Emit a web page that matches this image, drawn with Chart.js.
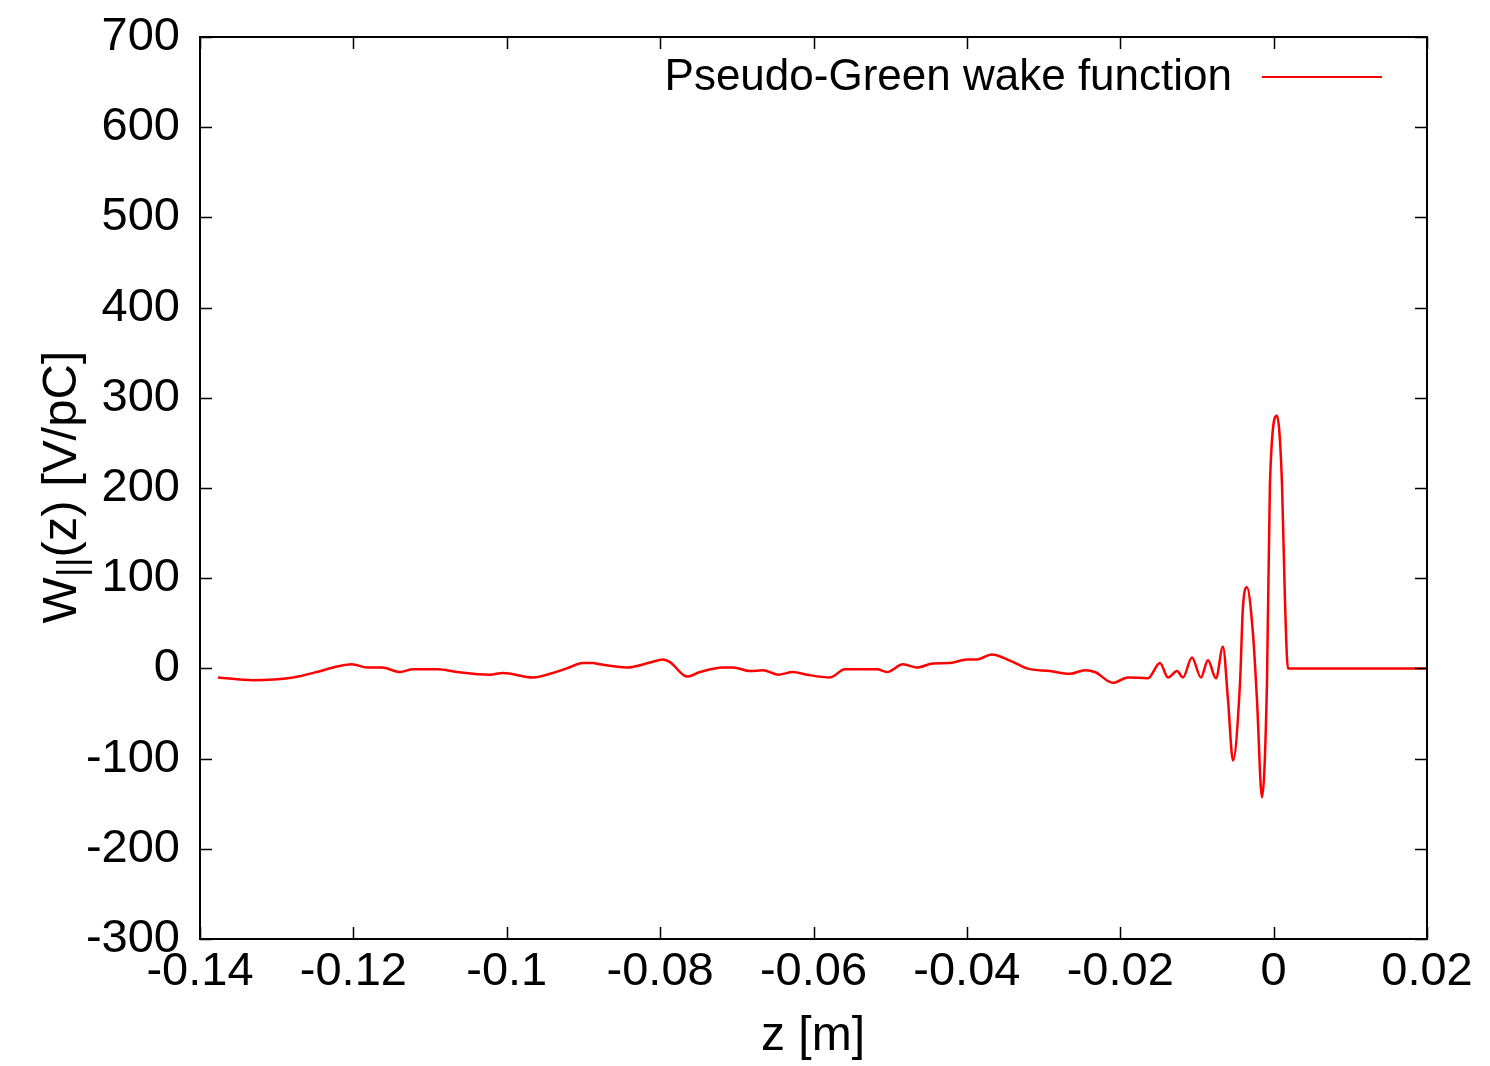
<!DOCTYPE html>
<html>
<head>
<meta charset="utf-8">
<script src="https://cdn.jsdelivr.net/npm/chart.js@4"></script>
<style>
  html, body { margin: 0; padding: 0; background: #fff; }
  #wrap { width: 1490px; height: 1066px; }
</style>
</head>
<body>
<div id="wrap"><canvas id="myChart" width="1490" height="1066"></canvas></div>
<script>
// longitudinal wake, z in metres, W in V/pC
var zVals = [
  -0.13765, -0.13309, -0.12787, -0.12474, -0.12266, -0.12018, -0.11822, -0.11627,
  -0.11392, -0.11223, -0.10897, -0.10649, -0.10219, -0.10049, -0.09658, -0.09436,
  -0.09215, -0.09006, -0.08875, -0.08784, -0.08432, -0.08132, -0.07963, -0.07871,
  -0.07650, -0.07480, -0.07180, -0.07050, -0.06828, -0.06659, -0.06463, -0.06268,
  -0.06085, -0.05785, -0.05590, -0.05172, -0.05042, -0.04833, -0.04651, -0.04442,
  -0.04220, -0.04000, -0.03868, -0.03673, -0.03529, -0.03334, -0.03216, -0.02917,
  -0.02656, -0.02460, -0.02330, -0.02095, -0.01899, -0.01639, -0.01482, -0.01378,
  -0.01260, -0.01182, -0.01065, -0.00948, -0.00856, -0.00752, -0.00661, -0.00595,
  -0.00530, -0.00439, -0.00400, -0.00348, -0.00270, -0.00217, -0.00152, -0.00087,
  -0.00048, 0.00043, 0.00109, 0.00148, 0.00187, 0.02
];
var wVals = [
  -10, -13, -10, -4, 1, 4.5, 1, 1,
  -4, -1, -1, -4, -7, -5, -10, -6,
  0, 6, 6, 4.5, 1, 6.5, 10, 7,
  -9, -4, 1, 1, -3, -2, -7, -4,
  -7, -10, -1, -1, -4, 4.5, 1, 5.5,
  6, 10, 10, 15.5, 12, 4.5, 0, -3,
  -6, -2, -4, -16, -10, -11, 6, -10,
  -3, -10, 12, -10, 9, -11, 24, -35,
  -102, -17, 68, 90, 39, -35, -143, -17,
  205, 280, 205, 75, 0, 0
];

var xTickLabels = ['-0.14', '-0.12', '-0.1', '-0.08', '-0.06', '-0.04', '-0.02', '0', '0.02'];
var yTickLabels = ['-300', '-200', '-100', '0', '100', '200', '300', '400', '500', '600', '700'];

var seriesName = 'Pseudo-Green wake function';
var FONT = '"Liberation Sans", Arial, sans-serif';

var points = zVals.map(function (z, i) { return { x: z, y: wVals[i] }; });

// gnuplot style frame: border plus inward ticks on all four sides
var framePlugin = {
  id: 'frame',
  afterDatasetsDraw: function (chart) {
    var ctx = chart.ctx, a = chart.chartArea;
    var xs = chart.scales.x, ys = chart.scales.y;
    var len = 12;
    ctx.save();
    ctx.strokeStyle = '#000';
    ctx.lineWidth = 1.5;
    ctx.beginPath();
    xs.ticks.forEach(function (t) {
      var px = Math.round(xs.getPixelForValue(t.value)) + 0.5;
      ctx.moveTo(px, a.bottom); ctx.lineTo(px, a.bottom - len);
      ctx.moveTo(px, a.top); ctx.lineTo(px, a.top + len);
    });
    ys.ticks.forEach(function (t) {
      var py = Math.round(ys.getPixelForValue(t.value)) + 0.5;
      ctx.moveTo(a.left, py); ctx.lineTo(a.left + len, py);
      ctx.moveTo(a.right, py); ctx.lineTo(a.right - len, py);
    });
    ctx.stroke();
    ctx.lineWidth = 2;
    ctx.strokeRect(a.left, a.top, a.right - a.left, a.bottom - a.top);

    // key, sample line to the right of the text
    ctx.font = '44px ' + FONT;
    ctx.fillStyle = '#000';
    ctx.textAlign = 'right';
    ctx.textBaseline = 'middle';
    ctx.fillText(seriesName, 1232, 78);
    ctx.strokeStyle = '#ff0000';
    ctx.lineWidth = 2;
    ctx.beginPath();
    ctx.moveTo(1262, 77); ctx.lineTo(1382, 77);
    ctx.stroke();

    // axis titles
    ctx.fillStyle = '#000';
    ctx.font = '48px ' + FONT;
    ctx.textAlign = 'center';
    ctx.textBaseline = 'alphabetic';
    ctx.fillText('z [m]', 813, 1050);

    ctx.translate(76, 487);
    ctx.rotate(-Math.PI / 2);
    ctx.textAlign = 'left';
    var big = '49px ' + FONT, small = '38px ' + FONT;
    ctx.font = big;
    var w1 = ctx.measureText('W').width;
    var w3 = ctx.measureText('(z) [V/pC]').width;
    ctx.font = small;
    var w2 = ctx.measureText('||').width;
    var x0 = -(w1 + w2 + w3) / 2;
    ctx.font = big;
    ctx.fillText('W', x0, 0);
    ctx.font = small;
    ctx.fillText('||', x0 + w1, 8);
    ctx.font = big;
    ctx.fillText('(z) [V/pC]', x0 + w1 + w2, 0);
    ctx.restore();
  }
};

var ctx = document.getElementById('myChart').getContext('2d');
var chart = new Chart(ctx, {
  type: 'line',
  data: {
    datasets: [{
      label: seriesName,
      data: points,
      borderColor: '#ff0000',
      borderWidth: 2.5,
      pointRadius: 0,
      cubicInterpolationMode: 'monotone',
      fill: false
    }]
  },
  options: {
    responsive: false,
    animation: false,
    layout: { padding: { top: 37, right: 63, left: 0, bottom: 0 } },
    plugins: { legend: { display: false }, tooltip: { enabled: false } },
    scales: {
      x: {
        type: 'linear',
        min: -0.14, max: 0.02,
        afterFit: function (s) {
          s.height = 127;
          s.paddingLeft = 0; s.paddingRight = 0;
        },
        afterBuildTicks: function (s) {
          s.ticks = xTickLabels.map(function (l) { return { value: parseFloat(l) }; });
        },
        grid: { display: false, drawTicks: false },
        border: { display: false },
        ticks: {
          padding: 5,
          color: '#000',
          font: { family: FONT, size: 47 },
          maxRotation: 0,
          autoSkip: false,
          callback: function (v, i) { return xTickLabels[i]; }
        }
      },
      y: {
        min: -300, max: 700,
        afterFit: function (s) {
          s.width = 200;
          s.paddingTop = 0; s.paddingBottom = 0;
        },
        afterBuildTicks: function (s) {
          s.ticks = yTickLabels.map(function (l) { return { value: parseFloat(l) }; });
        },
        grid: { display: false, drawTicks: false },
        border: { display: false },
        ticks: {
          padding: 20,
          color: '#000',
          font: { family: FONT, size: 47 },
          autoSkip: false,
          callback: function (v, i) { return yTickLabels[i]; }
        }
      }
    }
  },
  plugins: [framePlugin]
});
</script>
</body>
</html>
